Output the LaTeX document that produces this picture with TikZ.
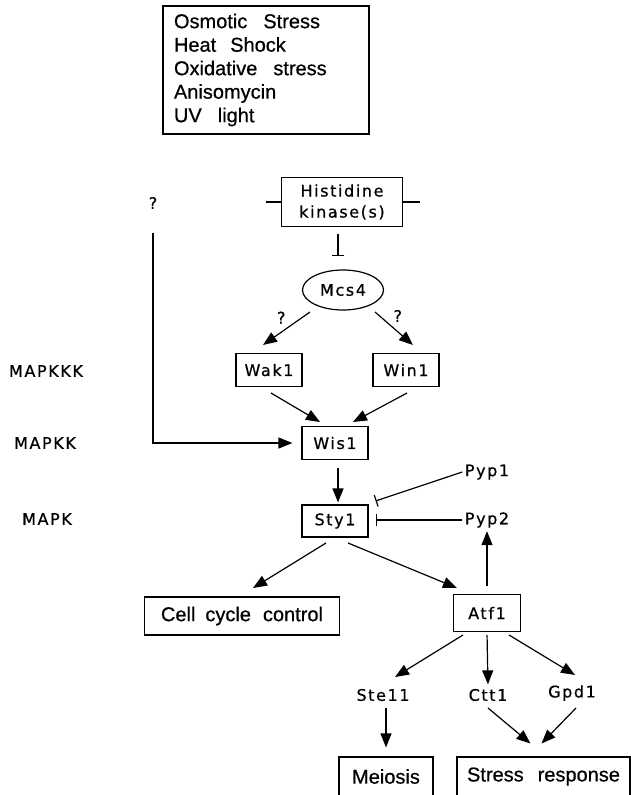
\documentclass[tikz,border=0pt]{standalone}
\usepackage{fontspec}
\setmainfont{Liberation Sans}
\newfontfamily\boxfont[FakeBold=0.6]{Liberation Sans}
\newfontfamily\genefont[LetterSpace=10,FakeBold=0.6]{DejaVu Sans}
\usetikzlibrary{positioning,arrows.meta,shapes.geometric,calc}

\begin{document}
\begin{tikzpicture}[
    x=1pt, y=-1pt,
    line width=1.2pt,
    block/.style={
        draw,
        minimum width=66pt,
        minimum height=33pt,
        inner sep=2pt,
        align=center,
        font=\genefont\fontsize{16}{21}\selectfont
    },
    outbox/.style={
        draw,
        minimum height=38pt,
        inner sep=2pt,
        font=\boxfont\fontsize{20}{23}\selectfont
    },
    gene/.style={inner sep=2pt, font=\genefont\fontsize{16}{19}\selectfont},
    level/.style={inner sep=2pt, font=\genefont\fontsize{16}{18}\selectfont},
    arrow/.style={-{Triangle[length=14pt,width=11pt]}},
    inhib/.style={-{Bar[width=12pt]}}
]

\useasboundingbox (0,0) rectangle (631,795);

\node[draw, text width=184pt, inner xsep=11pt, inner ysep=4pt, minimum height=128pt,
      align=left, font=\boxfont\fontsize{20}{23.5}\selectfont] (stimuli) at (266,70)
    {Osmotic\hspace{0.8em}Stress\\Heat\hspace{0.7em}Shock\\Oxidative\hspace{0.8em}stress\\Anisomycin\\UV\hspace{0.8em}light};

\node[block, minimum width=121pt, minimum height=49pt] (hk) at (342,202) {Histidine\\kinase(s)};
\coordinate (hkl) at (266,202);
\coordinate (hkr) at (420,202);
\node[draw, ellipse, minimum width=81pt, minimum height=40pt, inner sep=0pt,
      font=\genefont\fontsize{16}{19}\selectfont] (mcs4) at (343,290) {Mcs4};

\node[gene] (qmark) at (153,203) {?};

\node[block] (wak1) at (269,370) {Wak1};
\node[block] (win1) at (406,370) {Win1};
\node[block] (wis1) at (335,443) {Wis1};
\node[block, minimum height=32pt] (sty1) at (335,521) {Sty1};
\node[block, minimum width=67pt, minimum height=37pt] (atf1) at (487,613) {Atf1};

\node[level] (mapkkk) at (46,371) {MAPKKK};
\node[level] (mapkk) at (45,443) {MAPKK};
\node[level] (mapk) at (47,519) {MAPK};

\node[gene] (pyp1) at (487,472) {Pyp1};
\node[gene] (pyp2) at (487,520) {Pyp2};
\node[gene] (ste11) at (383,695) {Ste11};
\node[gene] (ctt1) at (488,695) {Ctt1};
\node[gene] (gpd1) at (572,693) {Gpd1};

\node[outbox, minimum width=195pt] (cellcycle) at (242,616) {Cell\hspace{0.5em}cycle\hspace{0.6em}control};
\node[outbox, minimum width=94pt, minimum height=39pt] (meiosis) at (386,776.5) {Meiosis};
\node[outbox, minimum width=173pt, minimum height=39pt] (stress) at (543.5,776.5) {Stress\hspace{0.7em}response};

\draw (hkl) -- (hk.west);
\draw (hk.east) -- (hkr);
\draw[inhib, shorten <=7pt, shorten >=13pt] ([xshift=-4pt]hk.south) -- ([xshift=-4pt]hk.south |- mcs4.north);

\draw[arrow] ($(mcs4)+(-33,22)$) -- node[pos=0.45, above left=1pt, gene] {?} ($(wak1)+(-6,-25)$);
\draw[arrow] ($(mcs4)+(32,22)$) -- node[pos=0.4, above right=1pt, gene] {?} ($(win1)+(7,-25)$);
\draw[arrow] ($(wak1)+(2,23)$) -- ($(wis1)+(-15,-21)$);
\draw[arrow] ($(win1)+(1,23)$) -- ($(wis1)+(18,-21)$);
\draw[arrow, shorten <=21pt, shorten >=9pt] (qmark) |- (wis1.west);

\draw[arrow, shorten <=8pt, shorten >=2pt] ([xshift=3pt]wis1.south) -- ([xshift=3pt]sty1.north);
\draw[inhib] (pyp1.west) -- ($(sty1.east)+(7,-20)$);
\draw[inhib, shorten >=7pt] (pyp2.west) -- (pyp2.west -| sty1.east);
\draw[arrow, shorten <=8pt, shorten >=1pt] (atf1.north) -- (pyp2.south);

\draw[arrow] ($(sty1)+(-9,22)$) -- ($(cellcycle)+(11,-28)$);
\draw[arrow] ($(sty1)+(13,22)$) -- ($(atf1)+(-30,-25)$);

\draw[arrow] ($(atf1)+(-24,22)$) -- ($(ste11)+(12,-18)$);
\draw[arrow, shorten <=3pt, shorten >=2pt] (atf1.south) -- (ctt1.north);
\draw[arrow] ($(atf1)+(22,22)$) -- ($(gpd1)+(3,-18)$);

\draw[arrow, shorten <=4pt, shorten >=9pt] ([xshift=3pt]ste11.south) -- ([xshift=3pt]ste11.south |- meiosis.north);
\draw[arrow] ($(ctt1)+(0,13)$) -- ($(stress)+(-13,-33)$);
\draw[arrow] ($(gpd1)+(4,15)$) -- ($(stress)+(-2,-33)$);

\end{tikzpicture}
\end{document}
